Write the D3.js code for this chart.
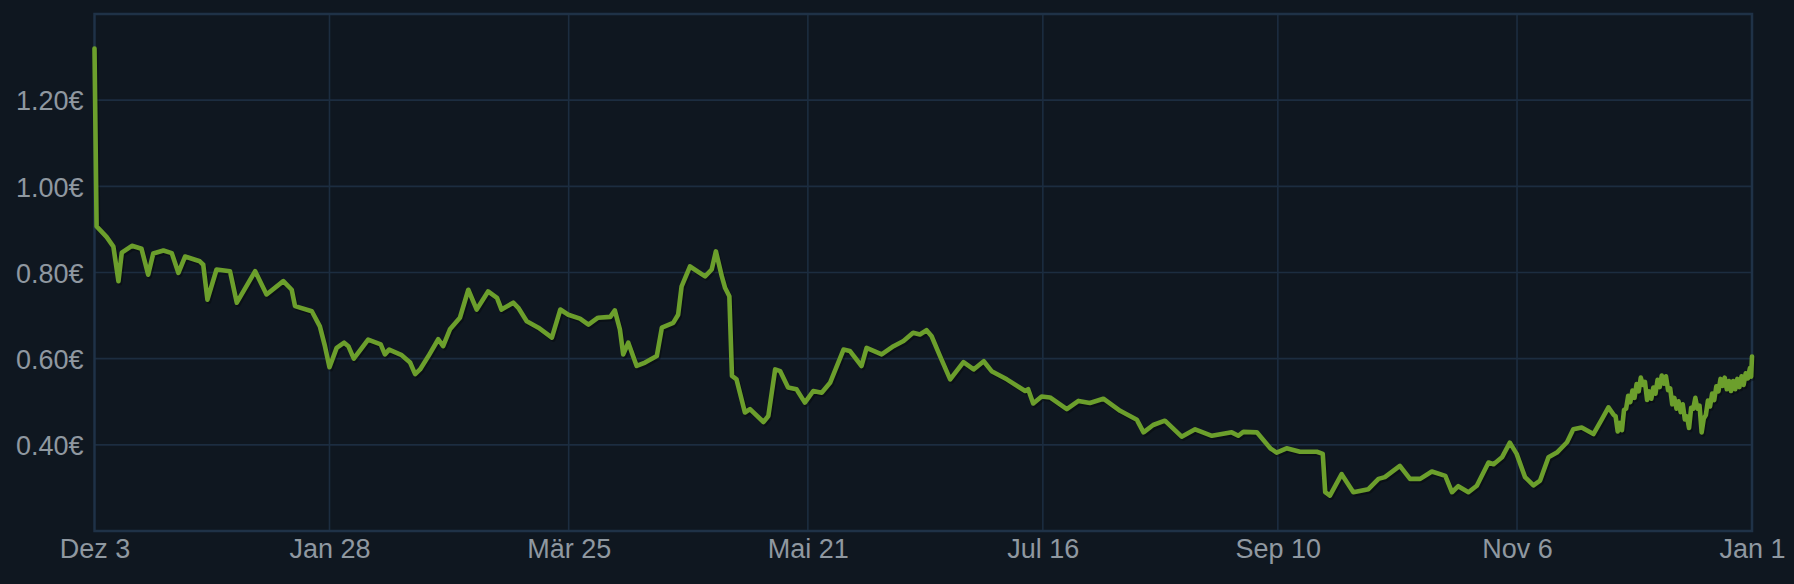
<!DOCTYPE html>
<html>
<head>
<meta charset="utf-8">
<script src="https://cdn.jsdelivr.net/npm/d3@7"></script>
<style>
  html, body { margin: 0; padding: 0; background: #0f1720; }
  svg { display: block; }
</style>
</head>
<body>
<svg id="chart" width="1794" height="584"></svg>
<script>
// ---- DATA ----
const dates = [
  "2019-12-03 00","2019-12-03 12","2019-12-04 07","2019-12-05 22","2019-12-07 12","2019-12-08 17","2019-12-09 12","2019-12-11 22",
  "2019-12-14 05","2019-12-15 19","2019-12-17 00","2019-12-19 10","2019-12-21 10","2019-12-23 00","2019-12-24 14","2019-12-28 02",
  "2019-12-28 22","2019-12-29 22","2020-01-01 02","2020-01-04 07","2020-01-05 22","2020-01-10 07","2020-01-13 00","2020-01-17 00",
  "2020-01-19 00","2020-01-19 19","2020-01-23 19","2020-01-25 17","2020-01-26 22","2020-01-28 00","2020-01-29 17","2020-01-31 12",
  "2020-02-01 12","2020-02-02 19","2020-02-06 05","2020-02-09 05","2020-02-10 05","2020-02-11 05","2020-02-14 05","2020-02-16 05",
  "2020-02-17 10","2020-02-18 14","2020-02-20 14","2020-02-22 22","2020-02-24 02","2020-02-25 17","2020-02-28 02","2020-03-01 02",
  "2020-03-03 02","2020-03-05 19","2020-03-07 22","2020-03-09 00","2020-03-11 19","2020-03-13 00","2020-03-15 00","2020-03-17 19",
  "2020-03-21 00","2020-03-23 00","2020-03-24 22","2020-03-27 17","2020-03-29 17","2020-04-01 00","2020-04-03 22","2020-04-05 00",
  "2020-04-06 05","2020-04-07 00","2020-04-08 05","2020-04-10 05","2020-04-12 05","2020-04-15 00","2020-04-16 05","2020-04-18 22",
  "2020-04-20 02","2020-04-20 22","2020-04-22 22","2020-04-26 12","2020-04-28 02","2020-04-29 02","2020-04-30 12","2020-05-01 07",
  "2020-05-02 07","2020-05-02 22","2020-05-04 00","2020-05-06 00","2020-05-07 05","2020-05-10 10","2020-05-11 14","2020-05-13 05",
  "2020-05-14 10","2020-05-16 07","2020-05-18 07","2020-05-20 07","2020-05-22 07","2020-05-24 07","2020-05-26 07","2020-05-29 12",
  "2020-05-31 00","2020-06-02 19","2020-06-04 00","2020-06-07 14","2020-06-10 10","2020-06-12 19","2020-06-15 02","2020-06-16 17",
  "2020-06-18 07","2020-06-19 12","2020-06-21 12","2020-06-23 22","2020-06-27 02","2020-06-29 12","2020-07-01 22","2020-07-03 19",
  "2020-07-07 10","2020-07-11 19","2020-07-12 12","2020-07-13 17","2020-07-15 17","2020-07-17 17","2020-07-21 17","2020-07-24 12",
  "2020-07-27 05","2020-07-30 10","2020-08-03 10","2020-08-07 10","2020-08-09 00","2020-08-11 07","2020-08-14 02","2020-08-18 02",
  "2020-08-21 07","2020-08-25 07","2020-08-30 00","2020-08-31 14","2020-09-01 19","2020-09-05 00","2020-09-08 05","2020-09-09 17",
  "2020-09-12 02","2020-09-15 07","2020-09-19 07","2020-09-20 17","2020-09-21 07","2020-09-22 10","2020-09-25 05","2020-09-28 00",
  "2020-10-01 14","2020-10-04 00","2020-10-05 12","2020-10-09 02","2020-10-11 12","2020-10-13 22","2020-10-16 17","2020-10-19 22",
  "2020-10-21 12","2020-10-23 00","2020-10-25 10","2020-10-27 10","2020-10-30 05","2020-10-31 10","2020-11-02 10","2020-11-04 07",
  "2020-11-05 22","2020-11-07 22","2020-11-09 22","2020-11-11 12","2020-11-13 12","2020-11-15 12","2020-11-17 22","2020-11-19 10",
  "2020-11-21 10","2020-11-24 05","2020-11-26 05","2020-11-27 19","2020-11-29 00","2020-11-29 12","2020-11-30 00","2020-11-30 12",
  "2020-12-01 00","2020-12-01 12","2020-12-02 00","2020-12-02 12","2020-12-03 00","2020-12-03 12","2020-12-04 00","2020-12-04 12",
  "2020-12-05 00","2020-12-05 12","2020-12-06 00","2020-12-06 12","2020-12-07 00","2020-12-07 12","2020-12-08 00","2020-12-08 12",
  "2020-12-09 00","2020-12-09 12","2020-12-10 00","2020-12-10 12","2020-12-11 00","2020-12-11 12","2020-12-12 00","2020-12-12 12",
  "2020-12-13 00","2020-12-13 12","2020-12-14 00","2020-12-14 12","2020-12-15 00","2020-12-15 12","2020-12-16 00","2020-12-16 12",
  "2020-12-17 00","2020-12-17 12","2020-12-18 00","2020-12-18 12","2020-12-19 00","2020-12-19 12","2020-12-20 00","2020-12-20 12",
  "2020-12-21 00","2020-12-21 12","2020-12-22 00","2020-12-22 12","2020-12-23 00","2020-12-23 12","2020-12-24 00","2020-12-24 12",
  "2020-12-25 00","2020-12-25 12","2020-12-26 00","2020-12-26 12","2020-12-27 00","2020-12-27 12","2020-12-28 00","2020-12-28 12",
  "2020-12-29 00","2020-12-29 12","2020-12-30 00","2020-12-30 12","2020-12-31 00","2020-12-31 12","2020-12-31 19","2021-01-01 00"
];
const prices = [
  1.32,0.907,0.899,0.882,0.86,0.78,0.846,0.862,
  0.855,0.795,0.844,0.851,0.845,0.799,0.837,0.826,
  0.818,0.737,0.807,0.803,0.730,0.803,0.749,0.78,
  0.76,0.722,0.71,0.675,0.629,0.58,0.625,0.637,
  0.629,0.6,0.644,0.633,0.61,0.621,0.608,0.591,
  0.564,0.575,0.606,0.645,0.629,0.668,0.695,0.76,
  0.714,0.756,0.741,0.714,0.73,0.718,0.687,0.672,
  0.649,0.714,0.702,0.693,0.679,0.695,0.697,0.712,
  0.668,0.61,0.637,0.583,0.591,0.606,0.672,0.683,
  0.702,0.768,0.814,0.791,0.807,0.849,0.791,0.764,
  0.745,0.56,0.552,0.475,0.483,0.453,0.467,0.575,
  0.571,0.533,0.529,0.498,0.525,0.521,0.544,0.621,
  0.618,0.583,0.625,0.61,0.629,0.641,0.66,0.656,
  0.666,0.652,0.606,0.552,0.592,0.575,0.594,0.571,
  0.552,0.525,0.529,0.496,0.512,0.51,0.483,0.502,
  0.497,0.507,0.479,0.458,0.429,0.446,0.456,0.419,
  0.436,0.421,0.429,0.421,0.43,0.429,0.392,0.382,
  0.392,0.384,0.384,0.379,0.29,0.282,0.332,0.29,
  0.297,0.321,0.325,0.351,0.321,0.321,0.338,0.328,
  0.29,0.304,0.29,0.305,0.359,0.355,0.371,0.405,
  0.379,0.325,0.306,0.317,0.371,0.382,0.406,0.436,
  0.44,0.425,0.459,0.487,0.47,0.466,0.431,0.451,
  0.434,0.481,0.484,0.514,0.499,0.526,0.509,0.541,
  0.524,0.556,0.539,0.546,0.504,0.524,0.507,0.533,
  0.519,0.551,0.534,0.561,0.542,0.559,0.527,0.531,
  0.494,0.509,0.484,0.501,0.476,0.494,0.459,0.466,
  0.439,0.486,0.484,0.509,0.484,0.491,0.429,0.461,
  0.469,0.503,0.489,0.519,0.504,0.536,0.524,0.553,
  0.537,0.556,0.529,0.548,0.525,0.548,0.529,0.553,
  0.534,0.559,0.539,0.566,0.554,0.578,0.558,0.605
];
const xDomain = ["2019-12-03 00", "2021-01-01 00"];
const xTickDates = ["2019-12-03 00","2020-01-28 00","2020-03-25 00","2020-05-21 00","2020-07-16 00","2020-09-10 00","2020-11-06 00","2021-01-01 00"];
const xTickLabels = ["Dez 3","Jan 28","Mär 25","Mai 21","Jul 16","Sep 10","Nov 6","Jan 1"];
const yDomain = [0.2, 1.4];
const yGridValues = [0.4, 0.6, 0.8, 1.0, 1.2];
const yTickLabels = ["0.40€","0.60€","0.80€","1.00€","1.20€"];

// ---- CHART ----
const parse = d3.utcParse("%Y-%m-%d %H");
const data = dates.map((d, i) => ({ t: parse(d), v: prices[i] }));

const W = 1794, H = 584;
const plot = { left: 94.5, right: 1752, top: 14, bottom: 531 };

const svg = d3.select("#chart");
svg.append("rect").attr("width", W).attr("height", H).attr("fill", "#0f1720");

const x = d3.scaleUtc().domain(xDomain.map(parse)).range([plot.left, plot.right]);
const y = d3.scaleLinear().domain(yDomain).range([plot.bottom, plot.top]);

const gridColor = "#1c2d40";

// horizontal grid
svg.append("g").selectAll("line").data(yGridValues).join("line")
  .attr("x1", plot.left).attr("x2", plot.right)
  .attr("y1", d => y(d)).attr("y2", d => y(d))
  .attr("stroke", gridColor).attr("stroke-width", 1.6);

// vertical grid
const xTicks = xTickDates.map(parse);
svg.append("g").selectAll("line").data(xTicks.slice(1, -1)).join("line")
  .attr("x1", d => x(d)).attr("x2", d => x(d))
  .attr("y1", plot.top).attr("y2", plot.bottom)
  .attr("stroke", gridColor).attr("stroke-width", 1.6);

// frame
svg.append("rect")
  .attr("x", plot.left).attr("y", plot.top)
  .attr("width", plot.right - plot.left).attr("height", plot.bottom - plot.top)
  .attr("fill", "none").attr("stroke", "#1f3247").attr("stroke-width", 2.5);

// y axis labels
const yAxis = d3.axisLeft(y).tickValues(yGridValues).tickSize(0).tickPadding(0)
  .tickFormat((d, i) => yTickLabels[i]);
const gy = svg.append("g").attr("transform", `translate(${plot.left - 11},0)`).call(yAxis);
gy.select(".domain").remove();
gy.selectAll("text")
  .attr("fill", "#8f98a0").attr("font-family", "'Liberation Sans', Arial, sans-serif")
  .attr("font-size", 27).attr("dy", "0.36em");

// x axis labels
const xAxis = d3.axisBottom(x).tickValues(xTicks).tickSize(0).tickPadding(0)
  .tickFormat((d, i) => xTickLabels[i]);
const gx = svg.append("g").attr("transform", `translate(0,${plot.bottom})`).call(xAxis);
gx.select(".domain").remove();
gx.selectAll("text")
  .attr("fill", "#8f98a0").attr("font-family", "'Liberation Sans', Arial, sans-serif")
  .attr("font-size", 27).attr("dy", null).attr("y", 27);

// line
const line = d3.line().x(d => x(d.t)).y(d => y(d.v));
svg.append("path").datum(data)
  .attr("d", line)
  .attr("transform", "translate(1.5,2)")
  .attr("fill", "none").attr("stroke", "#000").attr("stroke-opacity", 0.3)
  .attr("stroke-width", 4.6).attr("stroke-linejoin", "round").attr("stroke-linecap", "round");
svg.append("path").datum(data)
  .attr("d", line)
  .attr("fill", "none").attr("stroke", "#6c9f2c")
  .attr("stroke-width", 4.6).attr("stroke-linejoin", "round").attr("stroke-linecap", "round");
</script>
</body>
</html>
